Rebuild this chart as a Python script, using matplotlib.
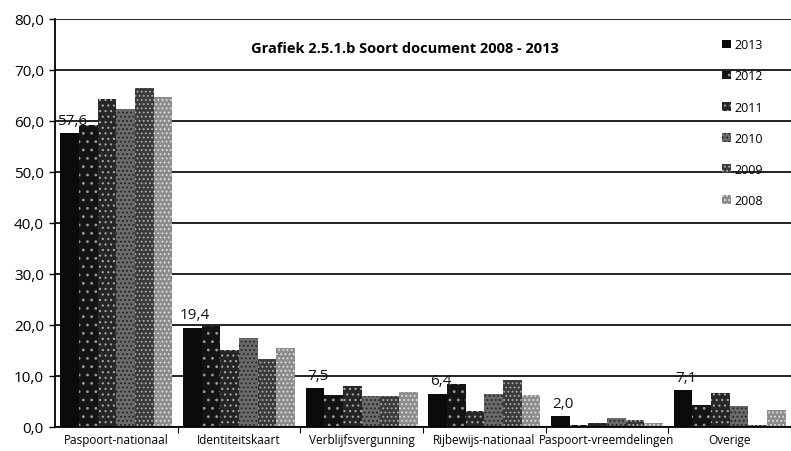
import matplotlib
matplotlib.use("Agg")
import matplotlib.pyplot as plt
import numpy as np

categories = ["Paspoort-nationaal", "Identiteitskaart", "Verblijfsvergunning",
              "Rijbewijs-nationaal", "Paspoort-vreemdelingen", "Overige"]
years = ["2013", "2012", "2011", "2010", "2009", "2008"]
values = {
    "2013": [57.6, 19.4, 7.5, 6.4, 2.0, 7.1],
    "2012": [59.1, 19.7, 6.1, 8.3, 0.3, 4.2],
    "2011": [64.3, 15.1, 7.9, 3.1, 0.6, 6.5],
    "2010": [62.3, 17.3, 5.9, 6.3, 1.7, 4.0],
    "2009": [66.5, 13.3, 6.0, 9.1, 1.3, 0.2],
    "2008": [64.7, 15.5, 6.8, 6.1, 0.6, 3.2],
}
labels_2013 = ["57,6", "19,4", "7,5", "6,4", "2,0", "7,1"]
yticks = [0, 10, 20, 30, 40, 50, 60, 70, 80]
title = "Grafiek 2.5.1.b Soort document 2008 - 2013"

styles = {
    "2013": dict(color="#0b0b0b", hatch=None, hc="#0b0b0b"),
    "2012": dict(color="#141414", hatch="..", hc="#9a9a9a"),
    "2011": dict(color="#262626", hatch="...", hc="#a8a8a8"),
    "2010": dict(color="#6a6a6a", hatch="....", hc="#222222"),
    "2009": dict(color="#3a3a3a", hatch="....", hc="#b0b0b0"),
    "2008": dict(color="#8c8c8c", hatch="....", hc="#e0e0e0"),
}

plt.rcParams["font.family"] = ["Open Sans", "DejaVu Sans"]
plt.rcParams["hatch.linewidth"] = 0.8

fig = plt.figure(figsize=(7.91, 4.52), dpi=100)
ax = fig.add_axes([55 / 791, 1 - 427.5 / 452, (791 - 55) / 791, (427.5 - 20) / 452])

x = np.arange(len(categories))
w = 0.152
n = len(years)
for i, yr in enumerate(years):
    st = styles[yr]
    pos = x - (n - 1) / 2 * w + i * w
    ax.bar(pos, values[yr], width=w, color=st["color"], edgecolor=st["hc"],
           hatch=st["hatch"], linewidth=0, label=yr, zorder=2)

first_pos = x - (n - 1) / 2 * w
for px, v, lab in zip(first_pos, values["2013"], labels_2013):
    ax.annotate(lab, (px, v), xytext=(2, 4), textcoords="offset points",
                ha="center", va="bottom", fontsize=11, color="#111111", zorder=3)

ax.set_ylim(0, 80)
ax.set_xlim(-0.5, -0.5 + 736 / 124.4)
ax.set_yticks(yticks)
ax.set_yticklabels([f"{t:.1f}".replace(".", ",") for t in yticks], fontsize=11)
ax.yaxis.grid(True, color="#111111", linewidth=1.3)
ax.set_axisbelow(True)

ax.set_xticks(x)
ax.set_xticklabels(categories, fontsize=8.5)
ax.tick_params(axis="x", length=0, pad=5)
ax.set_xticks(np.arange(len(categories)) + 0.5, minor=True)
ax.tick_params(axis="x", which="minor", length=4, width=0.8)
ax.tick_params(axis="y", length=4, width=1, pad=4)

for s in ["top", "right"]:
    ax.spines[s].set_visible(False)
ax.spines["left"].set_linewidth(1.3)
ax.spines["bottom"].set_linewidth(1.3)

ax.text(0.475, 0.93, title, transform=ax.transAxes, ha="center", va="center",
        fontsize=10.5, fontweight="bold")

leg = ax.legend(loc="upper left", bbox_to_anchor=(662 / 736, 0.965), frameon=False,
                fontsize=9, handlelength=0.7, handleheight=0.7, handletextpad=0.3,
                labelspacing=1.45, borderaxespad=0)

fig.savefig("out.png", dpi=100, facecolor="white")
